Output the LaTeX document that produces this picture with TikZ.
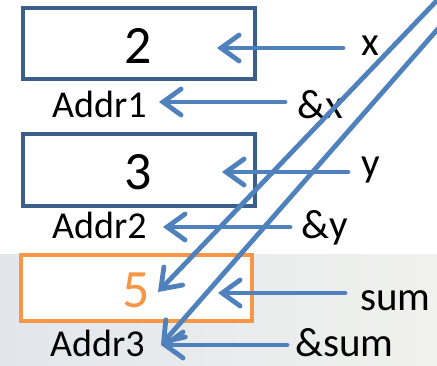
\documentclass[tikz,border=0pt]{standalone}
\usepackage{fontspec}
\setmainfont{Carlito}
\usetikzlibrary{arrows.meta}
\definecolor{boxblue}{RGB}{60,94,138}
\definecolor{boxorange}{RGB}{247,150,70}
\definecolor{arrowblue}{RGB}{79,129,189}
\definecolor{bandleft}{RGB}{226,230,235}
\definecolor{bandright}{RGB}{240,241,238}
\tikzset{
  cell/.style={draw=boxblue, line width=3.5pt, fill=white},
  sumcell/.style={draw=boxorange, line width=3.5pt, fill=white},
  digit/.style={font=\fontsize{54}{54}\selectfont, inner sep=0pt},
  lbl/.style={font=\fontsize{38}{38}\selectfont, inner sep=0pt, anchor=base west},
  var/.style={lbl, font=\fontsize{41}{41}\selectfont},
  ptr/.style={draw=arrowblue, line width=4.8pt, line cap=round,
    -{Straight Barb[length=18pt, width=26pt, line cap=round]}},
}
\begin{document}
\begin{tikzpicture}[x=1pt, y=-1pt]
  \useasboundingbox (0,0) rectangle (437,365);
  % light band behind the third cell
  \shade[left color=bandleft, right color=bandright] (0,254) rectangle (437,365);
  \clip (0,0) rectangle (437,365);

  % memory cells
  \draw[cell] (23,8) rectangle (255,79);
  \draw[cell] (23,134) rectangle (255,206);
  \draw[sumcell] (21,255) rectangle (252,321);

  % cell contents
  \node[digit] (v1) at (138,46) {2};
  \node[digit] (v2) at (138,172) {3};
  \node[digit, text=boxorange] (v3) at (136,290) {5};

  % addresses
  \node[lbl] (a1) at (52,117) {Addr1};
  \node[lbl] (a2) at (52,238) {Addr2};
  \node[lbl] (a3) at (50,356) {Addr3};

  % names and address-of expressions
  \node[var] (nx) at (361,55) {x};
  \node[var] (rx) at (297,118) {\&x};
  \node[var] (ny) at (361,176) {y};
  \node[var] (ry) at (301,238) {\&y};
  \node[var] (ns) at (360,310) {sum};
  \node[var] (rs) at (295,356) {\&sum};

  % arrow end points
  \coordinate (xs) at (343,48);   \coordinate (xt) at (217,48);
  \coordinate (rxs) at (285,102); \coordinate (rxt) at (159,102);
  \coordinate (ys) at (348,172);  \coordinate (yt) at (222,172);
  \coordinate (rys) at (290,227); \coordinate (ryt) at (163,227);
  \coordinate (ss) at (345,293);  \coordinate (st) at (218,293);
  \coordinate (rss) at (287,345); \coordinate (rst) at (161,345);
  \coordinate (d1s) at (447,-10); \coordinate (d1t) at (158,292);
  \coordinate (d2s) at (472,-10); \coordinate (d2t) at (161,345);

  % pointers
  \draw[ptr] (xs) -- (xt);
  \draw[ptr] (rxs) -- (rxt);
  \draw[ptr] (ys) -- (yt);
  \draw[ptr] (rys) -- (ryt);
  \draw[ptr] (ss) -- (st);
  \draw[ptr] (rss) -- (rst);
  \draw[ptr] (d1s) -- (d1t);
  \draw[ptr] (d2s) -- (d2t);
\end{tikzpicture}
\end{document}
